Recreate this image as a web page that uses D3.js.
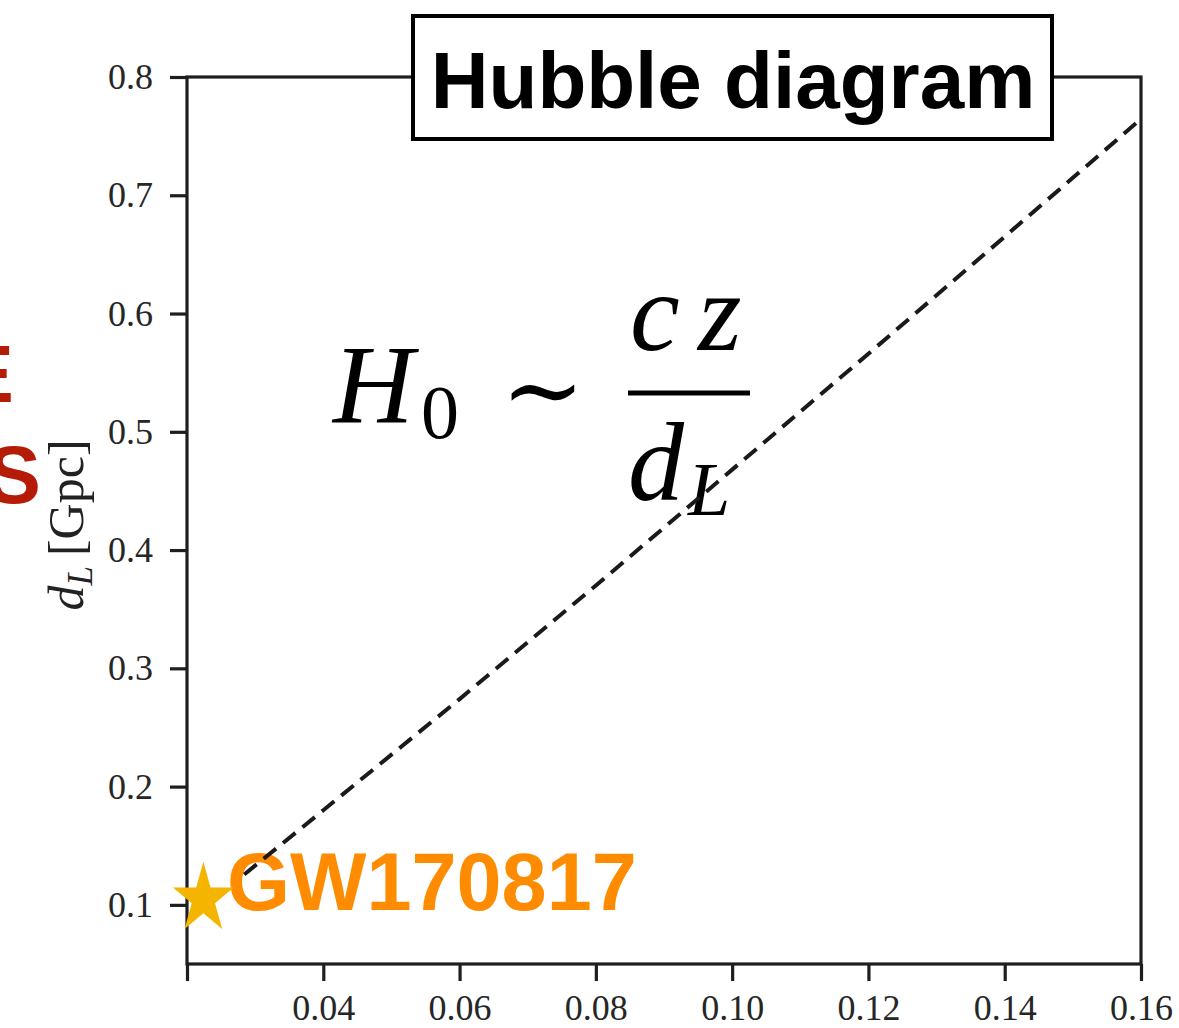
<!DOCTYPE html>
<html>
<head>
<meta charset="utf-8">
<script src="https://cdn.jsdelivr.net/npm/d3@7"></script>
<style>
  html, body { margin: 0; padding: 0; background: #ffffff; }
  svg { display: block; }
</style>
</head>
<body>
<svg id="chart" width="1179" height="1028"></svg>
<script>
// ---- data ----
const redshift = [0.0284, 0.04, 0.06, 0.08, 0.10, 0.12, 0.14, 0.16];
const distanceGpc = [0.1257, 0.180, 0.274, 0.370, 0.468, 0.566, 0.665, 0.7645];
const eventName = ["GW170817"];
const eventZ = [0.0224];
const eventD = [0.105];
const xTickValues = [0.02, 0.04, 0.06, 0.08, 0.10, 0.12, 0.14, 0.16];
const xTickLabels = ["", "0.04", "0.06", "0.08", "0.10", "0.12", "0.14", "0.16"];
const yTickValues = [0.1, 0.2, 0.3, 0.4, 0.5, 0.6, 0.7, 0.8];
const yTickLabels = ["0.1", "0.2", "0.3", "0.4", "0.5", "0.6", "0.7", "0.8"];
const titleText = ["Hubble diagram"];
const clippedWords = ["E", "S"];

const svg = d3.select("#chart");
const m = { left: 187, right: 1141, top: 77, bottom: 964 };

const x = d3.scaleLinear().domain([0.02, 0.16]).range([m.left, m.right]);
const y = d3.scaleLinear().domain([0.05, 0.8]).range([m.bottom, m.top]);

const serif = "'Liberation Serif', 'Times New Roman', serif";
const sans = "'Liberation Sans', Arial, Helvetica, sans-serif";

// red words partly outside the left edge (as in the reference)
svg.append("text").attr("x", 14).attr("y", 402)
  .attr("text-anchor", "end").attr("font-family", sans).attr("font-weight", "bold")
  .attr("font-size", 82).attr("fill", "#b51c08").text(clippedWords[0]);
svg.append("text").attr("x", 41).attr("y", 503)
  .attr("text-anchor", "end").attr("font-family", sans).attr("font-weight", "bold")
  .attr("font-size", 82).attr("fill", "#b51c08").text(clippedWords[1]);

// axes
const xAxis = d3.axisBottom(x).tickValues(xTickValues)
  .tickFormat((d, i) => xTickLabels[i]).tickSize(17).tickPadding(13);
const yAxis = d3.axisLeft(y).tickValues(yTickValues)
  .tickFormat((d, i) => yTickLabels[i]).tickSize(17).tickPadding(17);

const gx = svg.append("g").attr("transform", `translate(0,${m.bottom})`).call(xAxis);
const gy = svg.append("g").attr("transform", `translate(${m.left},0)`).call(yAxis);
[gx, gy].forEach(g => {
  g.select(".domain").remove();
  g.selectAll(".tick line").attr("stroke", "#1e1e1e").attr("stroke-width", 3.2);
  g.selectAll(".tick text").attr("font-family", serif).attr("font-size", 36).attr("fill", "#262626");
});

// frame (spines)
svg.append("rect")
  .attr("x", m.left).attr("y", m.top)
  .attr("width", m.right - m.left).attr("height", m.bottom - m.top)
  .attr("fill", "none").attr("stroke", "#1e1e1e").attr("stroke-width", 3.2);

// y label
const yl = svg.append("text")
  .attr("transform", "translate(83,525) rotate(-90)")
  .attr("text-anchor", "middle").attr("font-family", serif)
  .attr("font-size", 50).attr("fill", "#222");
yl.append("tspan").attr("font-style", "italic").text("d");
yl.append("tspan").attr("font-style", "italic").attr("font-size", 35).attr("dy", 9).text("L");
yl.append("tspan").attr("dy", -9).text("\u2009[Gpc]");

// title box
svg.append("rect").attr("x", 413).attr("y", 16).attr("width", 639).attr("height", 123)
  .attr("fill", "#ffffff").attr("stroke", "#000").attr("stroke-width", 4);
svg.append("text").attr("x", 733).attr("y", 108).attr("text-anchor", "middle")
  .attr("font-family", sans).attr("font-weight", "bold").attr("font-size", 80)
  .attr("fill", "#000").text(titleText[0]);

// formula H0 ~ cz / dL
const mathFont = serif;
svg.append("text").attr("x", 333).attr("y", 422).attr("font-family", mathFont)
  .attr("font-style", "italic").attr("font-size", 112).attr("fill", "#000").text("H");
svg.append("text").attr("x", 421).attr("y", 438).attr("font-family", mathFont)
  .attr("font-size", 76).attr("fill", "#000").text("0");
svg.append("text").attr("x", 543).attr("y", 424).attr("text-anchor", "middle")
  .attr("font-family", "'DejaVu Serif', serif").attr("font-size", 100).attr("fill", "#000").text("\u223C");
svg.append("line").attr("x1", 628).attr("x2", 750).attr("y1", 393).attr("y2", 393)
  .attr("stroke", "#000").attr("stroke-width", 5);
svg.append("text").attr("x", 630).attr("y", 350).attr("font-family", mathFont)
  .attr("font-style", "italic").attr("font-size", 112).attr("fill", "#000").text("c");
svg.append("text").attr("x", 698).attr("y", 350).attr("font-family", mathFont)
  .attr("font-style", "italic").attr("font-size", 112).attr("fill", "#000").text("z");
svg.append("text").attr("x", 628).attr("y", 500).attr("font-family", mathFont)
  .attr("font-style", "italic").attr("font-size", 112).attr("fill", "#000").text("d");
svg.append("text").attr("x", 688).attr("y", 515).attr("font-family", mathFont)
  .attr("font-style", "italic").attr("font-size", 76).attr("fill", "#000").text("L");

// event label
svg.append("text").attr("x", 227).attr("y", 910)
  .attr("font-family", sans).attr("font-weight", "bold").attr("font-size", 81)
  .attr("fill", "#ff8c00").text(eventName[0]);

// dashed Hubble relation
const pts = redshift.map((z, i) => [z, distanceGpc[i]]);
svg.append("path").datum(pts)
  .attr("d", d3.line().x(d => x(d[0])).y(d => y(d[1])))
  .attr("fill", "none").attr("stroke", "#1a1a1a").attr("stroke-width", 4)
  .attr("stroke-dasharray", "16,9");

// star
svg.append("path")
  .attr("d", d3.symbol().type(d3.symbolStar).size(1150)())
  .attr("transform", `translate(${x(eventZ[0])},${y(eventD[0])}) scale(1,1.16)`)
  .attr("fill", "#f4b400");
</script>
</body>
</html>
